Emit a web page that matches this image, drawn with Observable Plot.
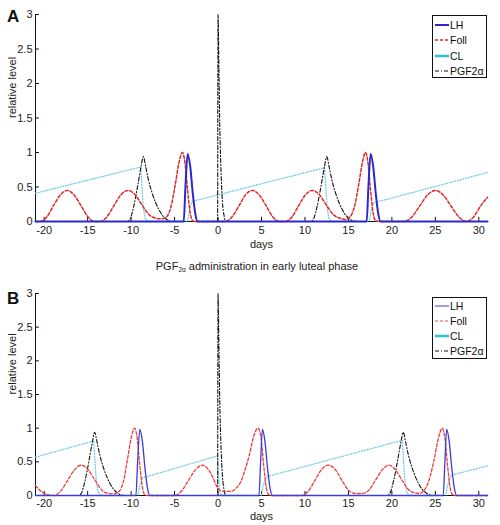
<!DOCTYPE html>
<html><head><meta charset="utf-8">
<script src="https://cdn.jsdelivr.net/npm/d3@7"></script>
<script src="https://cdn.jsdelivr.net/npm/@observablehq/plot@0.6"></script>
<style>
body{margin:0;background:#fff;font-family:"Liberation Sans",Arial,sans-serif;}
#wrap{position:relative;width:500px;height:525px;overflow:hidden;background:#fff;}
.abs{position:absolute;}
.letter{position:absolute;font-weight:bold;font-size:17px;color:#111;line-height:1;}
.legend{position:absolute;border:1px solid #111;background:#fff;font-size:10.5px;color:#111;box-sizing:border-box;}
.legend .row{display:flex;align-items:center;}
.legend svg{display:block;margin-left:2px;margin-right:1px;}
#title{position:absolute;left:7px;width:500px;text-align:center;font-size:11px;color:#222;}
#title sub{font-size:6.5px;vertical-align:-2px;}
</style></head><body><div id="wrap"></div>
<script>
// ---- data ----
const xDomain = [-21, 31];
const yDomain = [0, 3];
const xTicks = [-20, -15, -10, -5, 0, 5, 10, 15, 20, 25, 30];
const yTicks = [0, 0.5, 1, 1.5, 2, 2.5, 3];
const seriesNames = ["LH", "Foll", "CL", "PGF2α"];
const panelLetters = ["A", "B"];
const titleB = "administration in early luteal phase";

// Panel A: [day, level]
const aLH = [[-21,0],[-3.95,0],[-3.75,0.5],[-3.5,0.98],[-3.2,0.8],[-2.9,0.4],[-2.6,0.1],[-2.35,0],[17.1,0],[17.3,0.5],[17.55,0.98],[17.85,0.8],[18.15,0.4],[18.45,0.1],[18.7,0],[31,0]];
const aFoll = [[-21,0],[-20.5,0],[-19.7,0.066],[-18.95,0.225],[-18.15,0.384],[-17.35,0.45],[-16.55,0.384],[-15.75,0.225],[-14.95,0.066],[-14.2,0],[-13.6,0],[-12.8,0.066],[-12.0,0.225],[-11.2,0.384],[-10.35,0.45],[-9.55,0.39],[-8.75,0.24],[-7.95,0.1],[-7.2,0.05],[-6.5,0.04],[-5.9,0.07],[-5.4,0.22],[-4.9,0.55],[-4.5,0.85],[-4.1,1.0],[-3.8,0.85],[-3.5,0.45],[-3.2,0.12],[-2.9,0.01],[-2.6,0],[0.8,0],[1.6,0.066],[2.4,0.225],[3.15,0.384],[3.95,0.45],[4.75,0.384],[5.55,0.225],[6.3,0.066],[7.1,0],[7.7,0],[8.5,0.066],[9.25,0.225],[10.05,0.384],[10.85,0.45],[11.65,0.39],[12.45,0.24],[13.25,0.1],[14.0,0.05],[14.6,0.03],[15.2,0.07],[15.7,0.22],[16.2,0.55],[16.6,0.85],[16.95,1.0],[17.25,0.85],[17.55,0.45],[17.85,0.12],[18.15,0.01],[18.5,0],[21.4,0],[22.3,0.066],[23.2,0.225],[24.1,0.384],[25.0,0.45],[25.9,0.384],[26.8,0.225],[27.7,0.066],[28.6,0],[29.4,0.066],[30.2,0.225],[31,0.35]];
const aCL = [[-21,0.41],[-8.9,0.79],[-8.75,0.5],[-8.6,0.2],[-8.4,0.05],[-8.1,0],[-3.5,0],[-3.3,0.15],[-3.0,0.29],[12.25,0.78],[12.4,0.5],[12.55,0.2],[12.75,0.05],[13.05,0],[17.4,0],[17.6,0.15],[17.9,0.27],[31,0.71]];
const aPGF = [[-21,0],[-10.4,0],[-10.1,0.04],[-9.7,0.22],[-9.2,0.55],[-8.85,0.8],[-8.6,0.94],[-8.3,0.78],[-8.0,0.6],[-7.6,0.42],[-7.2,0.28],[-6.8,0.17],[-6.4,0.09],[-6.0,0.04],[-5.6,0.01],[-5.2,0],[-0.05,0],[0,3],[0.1,2.2],[0.2,1.4],[0.35,0.7],[0.5,0.3],[0.7,0.08],[0.9,0],[10.7,0],[11.0,0.04],[11.4,0.22],[11.9,0.55],[12.25,0.8],[12.5,0.94],[12.8,0.78],[13.1,0.6],[13.5,0.42],[13.9,0.28],[14.3,0.17],[14.7,0.09],[15.1,0.04],[15.5,0.01],[15.9,0],[31,0]];

// Panel B: [day, level]
const bLH = [[-21,0],[-9.45,0],[-9.25,0.5],[-9.0,0.98],[-8.7,0.8],[-8.4,0.4],[-8.1,0.1],[-7.85,0],[4.7,0],[4.9,0.5],[5.1,0.98],[5.4,0.8],[5.7,0.4],[6.0,0.1],[6.25,0],[25.9,0],[26.1,0.5],[26.3,0.98],[26.6,0.8],[26.9,0.4],[27.2,0.1],[27.45,0],[31,0]];
const bFoll = [[-21,0.15],[-20.6,0.09],[-20.1,0.04],[-19.5,0.01],[-18.9,0],[-18.1,0.066],[-17.3,0.225],[-16.5,0.384],[-15.75,0.45],[-14.95,0.384],[-14.15,0.225],[-13.35,0.08],[-12.6,0.03],[-12.0,0.025],[-11.4,0.06],[-10.9,0.2],[-10.4,0.55],[-10.0,0.85],[-9.6,1.0],[-9.3,0.85],[-9.0,0.45],[-8.7,0.12],[-8.4,0.01],[-8.1,0],[-5.0,0],[-4.2,0.066],[-3.4,0.225],[-2.6,0.384],[-1.8,0.45],[-1.2,0.4],[-0.6,0.27],[-0.2,0.15],[0.2,0.08],[0.8,0.06],[1.4,0.06],[2.0,0.1],[2.6,0.2],[3.1,0.38],[3.6,0.6],[4.1,0.88],[4.6,1.0],[4.95,0.85],[5.25,0.45],[5.55,0.12],[5.85,0.01],[6.1,0],[9.6,0],[10.4,0.066],[11.15,0.225],[11.9,0.384],[12.7,0.45],[13.5,0.384],[14.25,0.225],[15.0,0.08],[15.8,0.03],[16.6,0.03],[17.35,0.08],[18.1,0.225],[18.9,0.384],[19.65,0.45],[20.4,0.384],[21.15,0.23],[21.9,0.09],[22.6,0.04],[23.1,0.03],[23.6,0.06],[24.2,0.2],[24.8,0.5],[25.3,0.82],[25.8,1.0],[26.1,0.85],[26.4,0.45],[26.7,0.12],[27.0,0.01],[27.3,0],[31,0]];
const bCL = [[-21,0.57],[-14.3,0.81],[-14.15,0.5],[-14.0,0.2],[-13.8,0.05],[-13.5,0],[-9.2,0],[-9.0,0.15],[-8.7,0.26],[-0.05,0.59],[0.05,0.3],[0.2,0.05],[0.4,0],[5.0,0],[5.2,0.15],[5.6,0.28],[21.2,0.82],[21.35,0.5],[21.5,0.2],[21.7,0.05],[22.0,0],[26.2,0],[26.4,0.15],[26.8,0.3],[31,0.44]];
const bPGF = [[-21,0],[-16.0,0],[-15.7,0.04],[-15.3,0.22],[-14.8,0.55],[-14.45,0.8],[-14.2,0.94],[-13.9,0.78],[-13.6,0.6],[-13.2,0.42],[-12.8,0.28],[-12.4,0.17],[-12.0,0.09],[-11.6,0.04],[-11.2,0.01],[-10.8,0],[-0.05,0],[0,3],[0.1,2.2],[0.2,1.4],[0.35,0.7],[0.5,0.3],[0.7,0.08],[0.9,0],[19.5,0],[19.8,0.04],[20.2,0.22],[20.7,0.55],[21.05,0.8],[21.3,0.94],[21.6,0.78],[21.9,0.6],[22.3,0.42],[22.7,0.28],[23.1,0.17],[23.5,0.09],[23.9,0.04],[24.3,0.01],[24.7,0],[31,0]];

// ---- styles ----
const FONT = '"Liberation Sans", Arial, sans-serif';
const styleA = {
  LH: {stroke: "#2a2ac8", strokeWidth: 2, dash: null, curve: "monotone-x"},
  Foll: {stroke: "#e02a2a", strokeWidth: 1.5, dash: "3,2", curve: "monotone-x"},
  CL: {stroke: "#6fcde2", strokeWidth: 1.3, dash: "1,1.8", curve: "linear"},
  PGF: {stroke: "#111", strokeWidth: 1.1, dash: "4,2,1,2", curve: "monotone-x"}
};
const styleB = {
  LH: {stroke: "#3c3cd6", strokeWidth: 1.3, dash: null, curve: "monotone-x"},
  Foll: {stroke: "#ee3c3c", strokeWidth: 1.3, dash: "3,2", curve: "monotone-x"},
  CL: {stroke: "#6fcde2", strokeWidth: 1.3, dash: "1,1.8", curve: "linear"},
  PGF: {stroke: "#111", strokeWidth: 1.1, dash: "4,2,1,2", curve: "monotone-x"}
};
const legendCL = {stroke: "#2cc0d4", strokeWidth: 2.6, dash: null};

const toRows = arr => arr.map(([day, v]) => ({day, v}));

function lineMark(arr, st) {
  const o = {x: "day", y: "v", stroke: st.stroke, strokeWidth: st.strokeWidth, curve: st.curve};
  if (st.dash) o.strokeDasharray = st.dash;
  return Plot.line(toRows(arr), o);
}

function panel(S, st, cfg) {
  return Plot.plot({
    width: 500, height: cfg.h,
    marginLeft: 35, marginRight: 13, marginTop: cfg.mt, marginBottom: cfg.mb,
    style: {fontFamily: FONT, fontSize: "11px", color: "#222", background: "transparent", overflow: "visible"},
    x: {domain: xDomain},
    y: {domain: yDomain},
    marks: [
      Plot.ruleX(xDomain.slice(0, 1), {stroke: "#111", strokeWidth: 1}),
      Plot.ruleY([0], {stroke: "#111", strokeWidth: 1}),
      Plot.ruleX(xTicks, {y1: 0, y2: 0.06, stroke: "#111"}),
      Plot.ruleY(yTicks, {x1: xDomain[0], x2: xDomain[0] + 0.45, stroke: "#111"}),
      Plot.axisX({ticks: xTicks, tickSize: 0, tickPadding: cfg.tickPad, tickFormat: d => String(d), label: null}),
      Plot.axisY({ticks: yTicks, tickSize: 0, tickPadding: 3, tickFormat: d => String(d), label: null}),
      lineMark(S.cl, st.CL),
      lineMark(S.pgf, st.PGF),
      lineMark(S.foll, st.Foll),
      lineMark(S.lh, st.LH),
      Plot.text(["days"], {frameAnchor: "bottom", dy: cfg.daysDy, text: d => d, fontSize: 11, fill: "#222"}),
      Plot.text(["relative level"], {frameAnchor: "left", dx: -23, rotate: -90, text: d => d, fontSize: 11, fill: "#222"})
    ]
  });
}

function legend(top, height, rowH, padTop, styles) {
  const box = document.createElement("div");
  box.className = "legend";
  box.style.left = "432px"; box.style.top = top + "px";
  box.style.width = "55px"; box.style.height = height + "px";
  box.style.paddingTop = padTop + "px";
  seriesNames.forEach((name, i) => {
    const st = styles[i];
    const row = document.createElement("div");
    row.className = "row"; row.style.height = rowH + "px";
    const ns = "http://www.w3.org/2000/svg";
    const svg = document.createElementNS(ns, "svg");
    svg.setAttribute("width", 14); svg.setAttribute("height", 8);
    const ln = document.createElementNS(ns, "line");
    ln.setAttribute("x1", 0); ln.setAttribute("x2", 14);
    ln.setAttribute("y1", 4); ln.setAttribute("y2", 4);
    ln.setAttribute("stroke", st.stroke);
    ln.setAttribute("stroke-width", st.strokeWidth);
    if (st.dash) ln.setAttribute("stroke-dasharray", st.dash);
    svg.appendChild(ln);
    const t = document.createElement("span");
    t.textContent = name;
    row.appendChild(svg); row.appendChild(t);
    box.appendChild(row);
  });
  return box;
}

const wrap = document.getElementById("wrap");

const plotA = panel({lh: aLH, foll: aFoll, cl: aCL, pgf: aPGF}, styleA, {h: 255, mt: 14, mb: 34, daysDy: 26, tickPad: 5});
plotA.style.position = "absolute"; plotA.style.left = "0px"; plotA.style.top = "0px";
wrap.appendChild(plotA);

const plotB = panel({lh: bLH, foll: bFoll, cl: bCL, pgf: bPGF}, styleB, {h: 250, mt: 18, mb: 30, daysDy: 24, tickPad: 3.5});
plotB.style.position = "absolute"; plotB.style.left = "0px"; plotB.style.top = "275px";
wrap.appendChild(plotB);

const title = document.createElement("div");
title.id = "title"; title.style.top = "260px";
title.innerHTML = "PGF<sub>2α</sub> " + titleB;
wrap.appendChild(title);

[[panelLetters[0], 8], [panelLetters[1], 290]].forEach(([L, top]) => {
  const d = document.createElement("div");
  d.className = "letter"; d.textContent = L;
  d.style.left = "7px"; d.style.top = top + "px";
  wrap.appendChild(d);
});

wrap.appendChild(legend(15, 63, 15.5, 1, [styleA.LH, styleA.Foll, legendCL, styleA.PGF]));
wrap.appendChild(legend(297, 62, 15, 0.5, [{stroke: "#3c3cd6", strokeWidth: 1, dash: null}, {stroke: "#ee5050", strokeWidth: 1.1, dash: "3,2"}, legendCL, styleB.PGF]));
</script></body></html>
